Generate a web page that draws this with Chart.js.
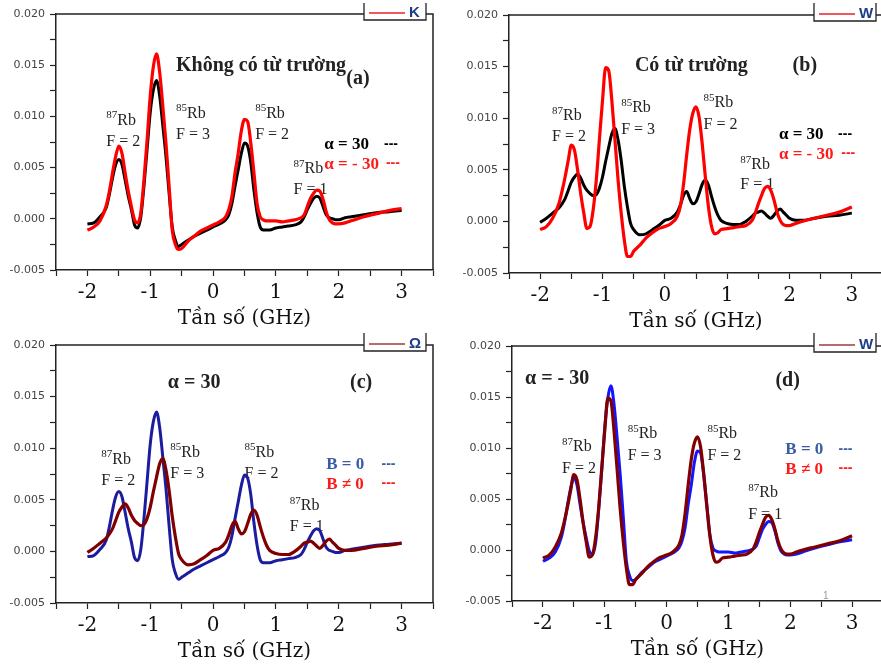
<!DOCTYPE html>
<html>
<head>
<meta charset="utf-8">
<script src="https://cdn.jsdelivr.net/npm/chart.js@4.4.0/dist/chart.umd.min.js"></script>
<style>
html, body { margin: 0; padding: 0; background: #fff; }
#wrap { position: relative; width: 881px; height: 665px; overflow: hidden; background: #fff; }
#wrap canvas { position: absolute; }
</style>
</head>
<body>
<div id="wrap">
  <canvas id="pa" width="440" height="333" style="left:0;top:0"></canvas>
  <canvas id="pb" width="448" height="336" style="left:440px;top:0"></canvas>
  <canvas id="pc" width="440" height="336" style="left:0;top:330px"></canvas>
  <canvas id="pd" width="448" height="334" style="left:440px;top:330px"></canvas>
</div>
<script>
// ---- du lieu (GHz / tin hieu) ----
const freq = [-2.0, -1.9, -1.8, -1.7, -1.65, -1.6, -1.55, -1.5, -1.45, -1.4, -1.35, -1.3, -1.25, -1.2, -1.15, -1.1,
  -1.05, -1.0, -0.95, -0.9, -0.85, -0.8, -0.75, -0.7, -0.65, -0.6, -0.55, -0.5, -0.4, -0.3, -0.2, -0.1,
  0.0, 0.1, 0.2, 0.25, 0.3, 0.35, 0.4, 0.45, 0.5, 0.55, 0.6, 0.65, 0.7, 0.75, 0.8, 0.85, 0.9,
  1.0, 1.1, 1.2, 1.3, 1.4, 1.45, 1.5, 1.55, 1.6, 1.65, 1.7, 1.75, 1.8, 1.85, 1.9, 1.95,
  2.0, 2.1, 2.2, 2.4, 2.6, 2.8, 3.0];

// alpha = 30, B = 0
const a30_B0 = [-0.0005, -0.0004, 0.0002, 0.0011, 0.0024, 0.0040, 0.0053, 0.0058, 0.0053, 0.0038, 0.0022, 0.0009, -0.0006, -0.0009, 0.0002, 0.0032,
  0.0068, 0.0104, 0.0126, 0.0135, 0.0120, 0.0091, 0.0061, 0.0025, -0.0008, -0.0021, -0.0027, -0.0025, -0.0021, -0.0017, -0.0014, -0.0011,
  -0.0008, -0.0005, -0.0001, 0.0004, 0.0015, 0.0032, 0.0048, 0.0064, 0.0074, 0.0071, 0.0055, 0.0028, 0.0006, -0.0008, -0.0011, -0.0011, -0.0011,
  -0.0009, -0.0008, -0.0007, -0.0006, -0.0003, 0.0002, 0.0009, 0.0015, 0.0020, 0.0022, 0.0020, 0.0012, 0.0004, 0.0001, 0.0000, -0.0001,
  -0.0001, 0.0001, 0.0002, 0.0004, 0.0006, 0.0007, 0.0008];

// alpha = -30, B = 0
const am30_B0 = [-0.0011, -0.0008, -0.0002, 0.0013, 0.0027, 0.0045, 0.0061, 0.0071, 0.0064, 0.0045, 0.0027, 0.0012, -0.0001, -0.0004, 0.0006, 0.0038,
  0.0077, 0.0120, 0.0149, 0.0161, 0.0143, 0.0110, 0.0074, 0.0032, -0.0011, -0.0025, -0.0030, -0.0029, -0.0022, -0.0017, -0.0012, -0.0009,
  -0.0006, -0.0003, 0.0002, 0.0009, 0.0022, 0.0045, 0.0064, 0.0086, 0.0097, 0.0095, 0.0074, 0.0045, 0.0015, 0.0002, -0.0001, -0.0002, -0.0002,
  -0.0002, -0.0003, -0.0002, -0.0001, 0.0001, 0.0004, 0.0012, 0.0020, 0.0025, 0.0028, 0.0027, 0.0019, 0.0007, -0.0001, -0.0004, -0.0005,
  -0.0005, -0.0004, -0.0002, 0.0002, 0.0005, 0.0008, 0.0010];

// alpha = 30, B khac 0
const a30_B = [-0.0001, 0.0003, 0.0008, 0.0013, 0.0017, 0.0022, 0.0030, 0.0038, 0.0043, 0.0046, 0.0042, 0.0035, 0.0030, 0.0027, 0.0025, 0.0026,
  0.0032, 0.0043, 0.0058, 0.0072, 0.0085, 0.0090, 0.0079, 0.0059, 0.0034, 0.0014, -0.0002, -0.0008, -0.0013, -0.0012, -0.0008, -0.0004,
  0.0001, 0.0003, 0.0009, 0.0016, 0.0025, 0.0029, 0.0022, 0.0017, 0.0019, 0.0027, 0.0036, 0.0040, 0.0035, 0.0024, 0.0014, 0.0006, 0.0001,
  -0.0002, -0.0003, -0.0003, 0.0000, 0.0005, 0.0008, 0.0009, 0.0010, 0.0008, 0.0005, 0.0003, 0.0006, 0.0010, 0.0012, 0.0009, 0.0006,
  0.0003, 0.0001, 0.0001, 0.0003, 0.0005, 0.0006, 0.0008];

// alpha = -30, B khac 0
const am30_B = [-0.0008, -0.0005, 0.0003, 0.0017, 0.0029, 0.0043, 0.0059, 0.0074, 0.0069, 0.0050, 0.0027, 0.0008, -0.0007, -0.0005, 0.0011, 0.0040,
  0.0079, 0.0117, 0.0149, 0.0146, 0.0117, 0.0079, 0.0040, 0.0008, -0.0018, -0.0034, -0.0034, -0.0029, -0.0023, -0.0016, -0.0011, -0.0007,
  -0.0005, -0.0002, 0.0005, 0.0015, 0.0036, 0.0064, 0.0089, 0.0105, 0.0111, 0.0101, 0.0075, 0.0043, 0.0014, -0.0005, -0.0012, -0.0011, -0.0008,
  -0.0007, -0.0006, -0.0005, -0.0004, 0.0001, 0.0008, 0.0017, 0.0025, 0.0032, 0.0034, 0.0030, 0.0021, 0.0009, 0.0001, -0.0003, -0.0004,
  -0.0004, -0.0002, 0.0000, 0.0003, 0.0006, 0.0009, 0.0014];

// ---- kieu chu ----
const F_PEAK = '16px "Liberation Serif"';
const F_SUP = '11px "Liberation Serif"';
const F_HEAD = 'bold 20px "Liberation Serif"';
const F_KEY = 'bold 17px "Liberation Serif"';
const F_DASH = 'bold 14px "Liberation Sans"';
const BLUE_TXT = '#3a5ba8';
const RED_TXT = '#ff1a1a';

// ghi chu cac dinh (toa do theo du lieu)
const notesA = [
  { sup: '87', text: 'Rb', x: -1.70, y: 0.0096 }, { text: 'F = 2', x: -1.70, y: 0.0075 },
  { sup: '85', text: 'Rb', x: -0.59, y: 0.0103 }, { text: 'F = 3', x: -0.59, y: 0.0082 },
  { sup: '85', text: 'Rb', x: 0.67, y: 0.0103 }, { text: 'F = 2', x: 0.67, y: 0.0082 },
  { sup: '87', text: 'Rb', x: 1.28, y: 0.0049 }, { text: 'F = 1', x: 1.28, y: 0.0028 },
  { text: 'Không có từ trường', x: -0.59, y: 0.0149, font: F_HEAD },
  { text: '(a)', x: 2.12, y: 0.0137, font: F_HEAD },
  { text: 'α = 30', x: 1.77, y: 0.0072, font: F_KEY, color: '#000' },
  { text: '---', x: 2.72, y: 0.0073, font: F_DASH, color: '#000' },
  { text: 'α = - 30', x: 1.77, y: 0.0053, font: F_KEY, color: RED_TXT },
  { text: '---', x: 2.75, y: 0.0054, font: F_DASH, color: RED_TXT }
];
const notesB = [
  { sup: '87', text: 'Rb', x: -1.81, y: 0.0102 }, { text: 'F = 2', x: -1.81, y: 0.0082 },
  { sup: '85', text: 'Rb', x: -0.70, y: 0.0110 }, { text: 'F = 3', x: -0.70, y: 0.0089 },
  { sup: '85', text: 'Rb', x: 0.62, y: 0.0115 }, { text: 'F = 2', x: 0.62, y: 0.0094 },
  { sup: '87', text: 'Rb', x: 1.21, y: 0.0055 }, { text: 'F = 1', x: 1.21, y: 0.0035 },
  { text: 'Có từ trường', x: -0.48, y: 0.0151, font: F_HEAD },
  { text: '(b)', x: 2.05, y: 0.0151, font: F_HEAD },
  { text: 'α = 30', x: 1.83, y: 0.0084, font: F_KEY, color: '#000' },
  { text: '---', x: 2.78, y: 0.0085, font: F_DASH, color: '#000' },
  { text: 'α = - 30', x: 1.83, y: 0.0065, font: F_KEY, color: RED_TXT },
  { text: '---', x: 2.83, y: 0.0066, font: F_DASH, color: RED_TXT }
];
const notesC = [
  { sup: '87', text: 'Rb', x: -1.78, y: 0.0089 }, { text: 'F = 2', x: -1.78, y: 0.0068 },
  { sup: '85', text: 'Rb', x: -0.68, y: 0.0096 }, { text: 'F = 3', x: -0.68, y: 0.0075 },
  { sup: '85', text: 'Rb', x: 0.50, y: 0.0096 }, { text: 'F = 2', x: 0.50, y: 0.0075 },
  { sup: '87', text: 'Rb', x: 1.22, y: 0.0044 }, { text: 'F = 1', x: 1.22, y: 0.0024 },
  { text: 'α = 30', x: -0.72, y: 0.0163, font: F_HEAD },
  { text: '(c)', x: 2.18, y: 0.0163, font: F_HEAD },
  { text: 'B = 0', x: 1.80, y: 0.0084, font: F_KEY, color: BLUE_TXT },
  { text: '---', x: 2.68, y: 0.0085, font: F_DASH, color: BLUE_TXT },
  { text: 'B ≠ 0', x: 1.80, y: 0.0065, font: F_KEY, color: RED_TXT },
  { text: '---', x: 2.68, y: 0.0066, font: F_DASH, color: RED_TXT }
];
const notesD = [
  { sup: '87', text: 'Rb', x: -1.69, y: 0.0101 }, { text: 'F = 2', x: -1.69, y: 0.0080 },
  { sup: '85', text: 'Rb', x: -0.63, y: 0.0114 }, { text: 'F = 3', x: -0.63, y: 0.0092 },
  { sup: '85', text: 'Rb', x: 0.66, y: 0.0114 }, { text: 'F = 2', x: 0.66, y: 0.0092 },
  { sup: '87', text: 'Rb', x: 1.32, y: 0.0056 }, { text: 'F = 1', x: 1.32, y: 0.0035 },
  { text: 'α = - 30', x: -2.29, y: 0.0168, font: F_HEAD },
  { text: '(d)', x: 1.76, y: 0.0166, font: F_HEAD },
  { text: 'B = 0', x: 1.92, y: 0.0098, font: F_KEY, color: BLUE_TXT },
  { text: '---', x: 2.78, y: 0.0099, font: F_DASH, color: BLUE_TXT },
  { text: 'B ≠ 0', x: 1.92, y: 0.0079, font: F_KEY, color: RED_TXT },
  { text: '---', x: 2.78, y: 0.0080, font: F_DASH, color: RED_TXT },
  { text: '1', x: 2.53, y: -0.0045, font: '10px "Liberation Sans"', color: '#999' }
];

// khung tren/phai, ghi chu, o chu thich bi cat
const decor = {
  id: 'decor',
  beforeDatasetsDraw(chart, args, o) {
    const { ctx, scales: { x, y } } = chart;
    ctx.save();
    ctx.textAlign = 'left';
    ctx.textBaseline = 'middle';
    o.notes.forEach(n => {
      let px = x.getPixelForValue(n.x);
      const py = y.getPixelForValue(n.y);
      ctx.fillStyle = n.color || '#222';
      if (n.sup) {
        ctx.font = F_SUP;
        ctx.fillText(n.sup, px, py - 5);
        px += ctx.measureText(n.sup).width;
      }
      ctx.font = n.font || F_PEAK;
      ctx.fillText(n.text, px, py);
    });
    ctx.restore();
  },
  afterDraw(chart, args, o) {
    const { ctx, chartArea: a } = chart;
    const bl = a.right - 69, br = a.right - 7, bb = a.top + 6;
    ctx.save();
    ctx.strokeStyle = '#222';
    ctx.lineWidth = 1.5;
    ctx.beginPath();
    ctx.moveTo(a.left, a.top); ctx.lineTo(bl, a.top);
    ctx.moveTo(br, a.top); ctx.lineTo(a.right, a.top); ctx.lineTo(a.right, a.bottom);
    ctx.stroke();
    ctx.fillStyle = '#fff';
    ctx.fillRect(bl, 0, br - bl, bb);
    ctx.lineWidth = 1.3;
    ctx.beginPath();
    ctx.moveTo(bl, 3); ctx.lineTo(bl, bb); ctx.lineTo(br, bb); ctx.lineTo(br, 3);
    ctx.stroke();
    ctx.strokeStyle = o.key.color;
    ctx.lineWidth = 1.5;
    ctx.beginPath();
    ctx.moveTo(bl + 5, a.top - 1); ctx.lineTo(bl + 41, a.top - 1);
    ctx.stroke();
    ctx.fillStyle = '#1e3c8c';
    ctx.font = 'bold 15px "Liberation Sans"';
    ctx.textBaseline = 'middle';
    ctx.fillText(o.key.text, bl + 45, a.top - 1);
    ctx.restore();
  }
};

const panels = [
  { id: 'pa', w: 440, h: 333, area: [56, 14, 433, 270], notes: notesA, key: { text: 'K', color: '#e8202a' },
    sets: [{ data: am30_B0, color: '#ff0000', width: 3.2 }, { data: a30_B0, color: '#000000', width: 3 }] },
  { id: 'pb', w: 448, h: 336, area: [69, 15, 447.5, 273], notes: notesB, key: { text: 'W', color: '#e8202a' },
    sets: [{ data: am30_B, color: '#ff0000', width: 3.2 }, { data: a30_B, color: '#000000', width: 3 }] },
  { id: 'pc', w: 440, h: 336, area: [56, 15, 433, 273], notes: notesC, key: { text: 'Ω', color: '#a03a3a' },
    sets: [{ data: a30_B, color: '#800000', width: 3.2 }, { data: a30_B0, color: '#1c1ca0', width: 3 }] },
  { id: 'pd', w: 448, h: 334, area: [72, 16, 447.3, 271], notes: notesD, key: { text: 'W', color: '#a03a3a' },
    sets: [{ data: am30_B, color: '#800000', width: 3.2 }, { data: am30_B0, color: '#1414ff', width: 3 }] }
];

const isMajorY = v => Math.abs(v / 0.005 - Math.round(v / 0.005)) < 1e-6;

panels.forEach(p => {
  const [cl, ct, cr, cb] = p.area;
  new Chart(document.getElementById(p.id), {
    type: 'line',
    data: {
      datasets: p.sets.map(s => ({
        data: freq.map((f, i) => ({ x: f, y: s.data[i] })),
        borderColor: s.color,
        borderWidth: s.width,
        pointRadius: 0,
        cubicInterpolationMode: 'monotone',
        fill: false
      }))
    },
    options: {
      responsive: false, animation: false, devicePixelRatio: 1,
      layout: { padding: { left: 0, top: ct, right: p.w - cr, bottom: 0 } },
      plugins: {
        legend: { display: false },
        tooltip: { enabled: false },
        decor: { notes: p.notes, key: p.key }
      },
      scales: {
        x: {
          type: 'linear', min: -2.5, max: 3.5,
          afterFit: s => { s.height = p.h - cb; },
          ticks: {
            stepSize: 0.5, autoSkip: false, maxRotation: 0, padding: 5,
            color: '#111', font: { family: '"DejaVu Serif"', size: 20 },
            callback: v => Number.isInteger(v) ? String(v) : ''
          },
          grid: { drawOnChartArea: false, tickLength: 6, color: '#222', tickColor: '#222', tickWidth: 1.2 },
          border: { color: '#222', width: 1.5 },
          title: {
            display: true, text: 'Tần số (GHz)', color: '#111',
            font: { family: '"DejaVu Serif"', size: 20 },
            padding: { top: 0, bottom: 2 }
          }
        },
        y: {
          min: -0.005, max: 0.02,
          afterFit: s => { s.width = cl; },
          ticks: {
            stepSize: 0.0025, autoSkip: false, padding: 5,
            color: '#444', font: { family: '"DejaVu Sans"', size: 11 },
            callback: v => isMajorY(v) ? v.toFixed(3) : ''
          },
          grid: { drawOnChartArea: false, tickLength: 6, color: '#222', tickColor: '#222', tickWidth: 1.2 },
          border: { color: '#222', width: 1.5 }
        }
      }
    },
    plugins: [decor]
  });
});
</script>
</body>
</html>
